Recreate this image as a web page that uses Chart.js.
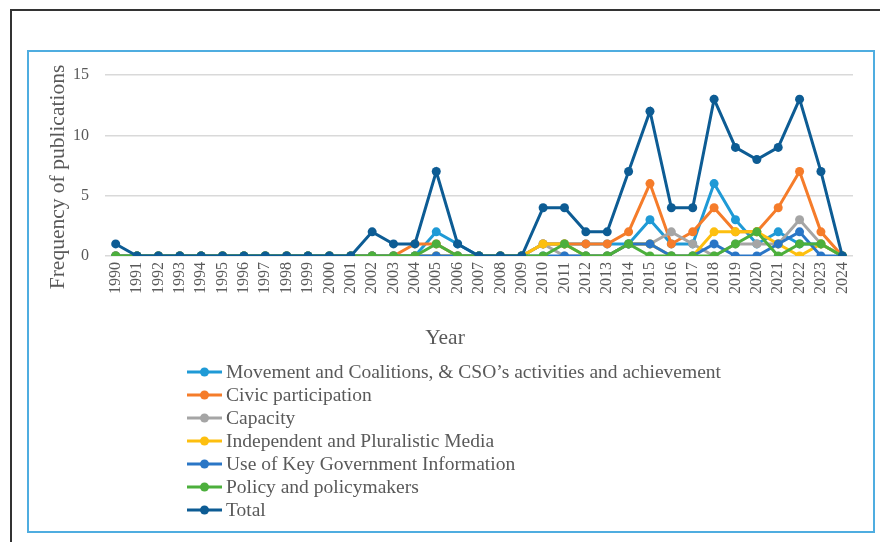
<!DOCTYPE html>
<html>
<head>
<meta charset="utf-8">
<script src="https://cdn.jsdelivr.net/npm/chart.js@4/dist/chart.umd.min.js"></script>
<style>
  html, body { margin: 0; padding: 0; background: #fff; overflow: hidden; width: 880px; height: 542px; }
  #frame { position: absolute; left: 10px; top: 9px; width: 1000px; height: 700px;
           border-top: 2px solid #333; border-left: 2px solid #333; }
  #box { position: absolute; left: 27px; top: 50px; width: 848px; height: 483px;
         border: 2px solid #4fade0; box-sizing: border-box; }
  #wrap { position: absolute; left: 1px; top: 1px; width: 844px; height: 479px; }
</style>
</head>
<body>
<div id="frame"></div>
<div id="box"><div id="wrap"><canvas id="pubChart"></canvas></div></div>
<script>
// years 1990 - 2024
let years = [];
for (let y = 1990; y <= 2024; y++) years.push(String(y));

let seriesNames = [
    "Movement and Coalitions, & CSO\u2019s activities and achievement",
    "Civic participation",
    "Capacity",
    "Independent and Pluralistic Media",
    "Use of Key Government Information",
    "Policy and policymakers",
    "Total"
];
let seriesColors = ["#1f9ad6", "#f57c2a", "#a5a5a5", "#fdbf0f", "#2a76c6", "#4caf3c", "#0d5c94"];

//                 1990 ............................. 2001, 2002 ......................................................... 2024
let movement  = [0,0,0,0,0,0,0,0,0,0,0,0, 0,0,0,2,1,0,0,0,1,1,1,1,1,3,1,1,6,3,1,2,1,1,0];
let civic     = [0,0,0,0,0,0,0,0,0,0,0,0, 0,0,1,1,0,0,0,0,1,1,1,1,2,6,1,2,4,2,2,4,7,2,0];
let capacity  = [0,0,0,0,0,0,0,0,0,0,0,0, 0,0,0,0,0,0,0,0,1,0,0,0,1,1,2,1,0,1,1,1,3,1,0];
let media     = [0,0,0,0,0,0,0,0,0,0,0,0, 0,0,0,0,0,0,0,0,1,1,0,0,1,1,0,0,2,2,2,1,0,1,0];
let govInfo   = [0,0,0,0,0,0,0,0,0,0,0,0, 0,0,0,0,0,0,0,0,0,0,0,0,1,1,0,0,1,0,0,1,2,0,0];
let policy    = [0,0,0,0,0,0,0,0,0,0,0,0, 0,0,0,1,0,0,0,0,0,1,0,0,1,0,0,0,0,1,2,0,1,1,0];
let total     = [1,0,0,0,0,0,0,0,0,0,0,0, 2,1,1,7,1,0,0,0,4,4,2,2,7,12,4,4,13,9,8,9,13,7,0];

let allSeries = [movement, civic, capacity, media, govInfo, policy, total];

let yTitle = "Frequency of publications";
let xTitle = "Year";

const FONT = "'Liberation Serif', 'Times New Roman', serif";
const TEXT = "#595959";

// axis titles + vertical legend, placed where Excel put them (not centred on the plot)
const excelBits = {
    id: "excelBits",
    afterDraw(chart) {
        let ctx = chart.ctx;
        ctx.save();
        ctx.fillStyle = TEXT;
        ctx.textAlign = "center";
        ctx.textBaseline = "middle";
        ctx.font = "21.5px " + FONT;
        ctx.fillText(xTitle, 415, 285);
        ctx.save();
        ctx.translate(28, 124);
        ctx.rotate(-Math.PI / 2);
        ctx.fillText(yTitle, 0, 0);
        ctx.restore();

        ctx.textAlign = "left";
        ctx.font = "19.5px " + FONT;
        seriesNames.forEach((name, i) => {
            let y = 319 + i * 23;
            let x = 157;
            ctx.strokeStyle = seriesColors[i];
            ctx.lineWidth = 3;
            ctx.beginPath();
            ctx.moveTo(x, y);
            ctx.lineTo(x + 35, y);
            ctx.stroke();
            ctx.fillStyle = seriesColors[i];
            ctx.beginPath();
            ctx.arc(x + 17.5, y, 4.5, 0, Math.PI * 2);
            ctx.fill();
            ctx.fillStyle = TEXT;
            ctx.fillText(name, x + 39, y + 1);
        });
        ctx.restore();
    }
};

let datasets = seriesNames.map((name, i) => ({
    label: name,
    data: allSeries[i],
    borderColor: seriesColors[i],
    backgroundColor: seriesColors[i],
    borderWidth: 3,
    pointRadius: 4.5,
    pointHoverRadius: 4.5,
    pointBorderWidth: 0,
    tension: 0,
    order: seriesNames.length - 1 - i   // last series on top, like Excel
}));

new Chart(document.getElementById("pubChart").getContext("2d"), {
    type: "line",
    data: { labels: years, datasets: datasets },
    plugins: [excelBits],
    options: {
        responsive: true,
        maintainAspectRatio: false,
        animation: false,
        layout: { padding: { top: 22, right: 21, bottom: 178, left: 11 } },
        plugins: { legend: { display: false }, tooltip: { enabled: false } },
        scales: {
            x: {
                offset: true,
                afterFit: s => { s.height = 98; },
                grid: { display: false, drawTicks: false },
                border: { display: false },
                ticks: { autoSkip: false, color: TEXT, font: { family: FONT, size: 16 }, minRotation: 90, maxRotation: 90, padding: 6 }
            },
            y: {
                min: 0, max: 15,
                afterFit: s => { s.width = 64; s.paddingTop = 0; s.paddingBottom = 0; },
                grid: { color: "#d9d9d9", lineWidth: 1.5, drawTicks: false },
                border: { display: false },
                ticks: { stepSize: 5, color: TEXT, font: { family: FONT, size: 16 }, padding: 16 }
            }
        }
    }
});
</script>
</body>
</html>
